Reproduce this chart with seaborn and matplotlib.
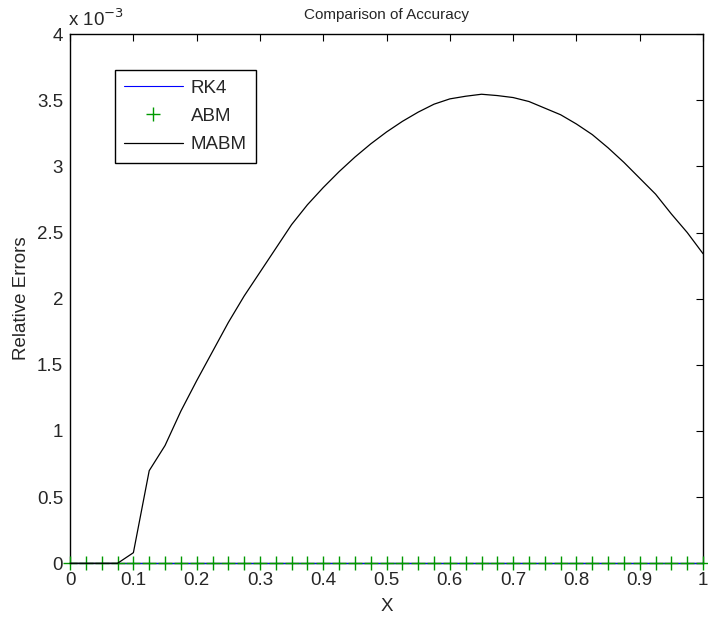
import numpy as np
import pandas as pd
import seaborn as sns
import matplotlib.pyplot as plt

# x grid (step 0.025) and relative errors, in units of 1e-3
x = [0.0, 0.025, 0.05, 0.075, 0.1, 0.125, 0.15, 0.175, 0.2, 0.225,
     0.25, 0.275, 0.3, 0.325, 0.35, 0.375, 0.4, 0.425, 0.45, 0.475,
     0.5, 0.525, 0.55, 0.575, 0.6, 0.625, 0.65, 0.675, 0.7, 0.725,
     0.75, 0.775, 0.8, 0.825, 0.85, 0.875, 0.9, 0.925, 0.95, 0.975, 1.0]
rk4_err = [0.0] * 41
abm_err = [0.0] * 41
mabm_err = [0.0, 0.0, 0.0, 0.0, 0.08, 0.70, 0.89, 1.15, 1.38, 1.60,
            1.82, 2.02, 2.20, 2.38, 2.56, 2.71, 2.84, 2.96, 3.07, 3.17,
            3.26, 3.34, 3.41, 3.47, 3.51, 3.53, 3.545, 3.535, 3.52, 3.49,
            3.44, 3.39, 3.32, 3.24, 3.14, 3.03, 2.91, 2.79, 2.64, 2.50, 2.34]

df = pd.DataFrame({'x': x, 'RK4': rk4_err, 'ABM': abm_err, 'MABM': mabm_err})

sns.set_theme(style='white')
plt.rcParams['font.family'] = ['Liberation Sans', 'DejaVu Sans']
plt.rcParams['xtick.direction'] = 'in'
plt.rcParams['ytick.direction'] = 'in'

fig = plt.figure(figsize=(7.08, 6.19), dpi=100)
ax = fig.add_axes([0.099, 0.09, 0.894, 0.855])

sns.lineplot(data=df, x='x', y='RK4', ax=ax, color='blue', linewidth=0.8,
             zorder=3, clip_on=False)
sns.lineplot(data=df, x='x', y='ABM', ax=ax, color='#009900', marker='+', linestyle='none',
             markersize=10, markeredgewidth=1.0, markeredgecolor='#009900',
             zorder=4, clip_on=False)
sns.lineplot(data=df, x='x', y='MABM', ax=ax, color='black', linewidth=0.9,
             zorder=5, clip_on=False)

ax.set_xlim(0, 1)
ax.set_ylim(0, 4)
ax.set_xticks(np.arange(0, 1.01, 0.1))
ax.set_xticklabels(['0', '0.1', '0.2', '0.3', '0.4', '0.5', '0.6', '0.7', '0.8', '0.9', '1'])
ax.set_yticks(np.arange(0, 4.01, 0.5))
ax.set_yticklabels(['0', '0.5', '1', '1.5', '2', '2.5', '3', '3.5', '4'])
ax.tick_params(axis='both', which='both', top=True, right=True, length=5, width=0.8,
               color='black', labelsize=13.5)
ax.tick_params(axis='x', pad=6)
ax.tick_params(axis='y', pad=5)
for s in ax.spines.values():
    s.set_color('black')
    s.set_linewidth(1.0)
    s.set_zorder(2)

ax.set_xlabel('X', fontsize=13.5, labelpad=7)
ax.set_ylabel('Relative Errors', fontsize=13.5, labelpad=5)
ax.set_title('Comparison of Accuracy', fontsize=11, pad=11)
ax.text(-0.004, 1.008, r'x 10$^{-3}$', transform=ax.transAxes, fontsize=13.5,
        ha='left', va='bottom')

handles = ax.get_lines()[:3]
leg = ax.legend(handles, ['RK4', 'ABM', 'MABM'], loc='upper left',
                bbox_to_anchor=(0.071, 0.932), borderaxespad=0,
                fancybox=False, framealpha=1, edgecolor='black', fontsize=13.5,
                handlelength=3.1, handletextpad=0.45, borderpad=0.5, labelspacing=0.6)
leg.get_frame().set_linewidth(1.0)

fig.savefig('out.png', dpi=100)
